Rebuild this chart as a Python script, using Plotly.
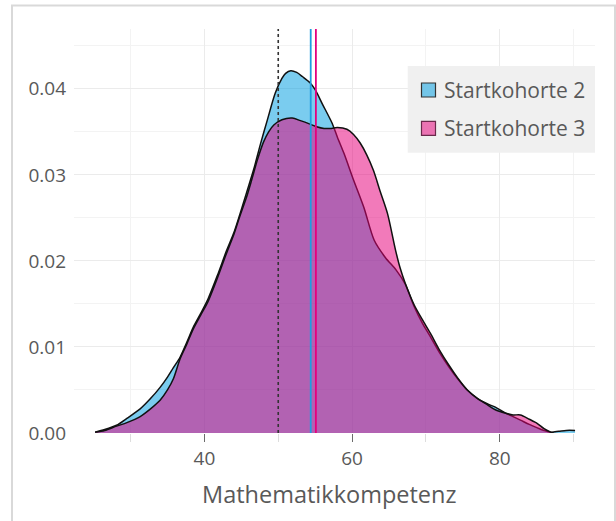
import plotly.graph_objects as go

# ---------------- data ----------------
series_names = ["Startkohorte 2", "Startkohorte 3"]

sk2_x = [25.2, 26.5, 28.1, 29.5, 31.3, 32.7, 34.0, 35.0, 35.8, 36.7, 37.6, 38.5, 39.5, 40.5,
         41.8, 43.0, 44.0, 44.8, 45.7, 46.7, 47.6, 48.5, 49.6, 50.5, 51.0, 51.7, 52.5, 53.3,
         54.3, 55.0, 56.0, 57.3, 58.0, 58.9, 60.2, 61.6, 63.0, 64.5, 66.0, 67.2, 68.4, 69.5,
         70.6, 71.8, 73.1, 74.3, 75.6, 77.0, 78.3, 79.4, 80.8, 81.8, 82.8, 84.0, 85.1, 86.0,
         86.9, 88.0, 89.0, 90.2]
sk2_y = [0.0001, 0.0004, 0.0009, 0.0017, 0.0028, 0.0040, 0.0053, 0.0065, 0.0076, 0.0088,
         0.0105, 0.0123, 0.0139, 0.0156, 0.0184, 0.0212, 0.0233, 0.0254, 0.0279, 0.0307,
         0.0336, 0.0363, 0.0395, 0.0412, 0.0418, 0.0421, 0.0419, 0.0414, 0.0407, 0.0399,
         0.0382, 0.0360, 0.0344, 0.0325, 0.0294, 0.0262, 0.0224, 0.0204, 0.0189, 0.0173,
         0.0147, 0.0128, 0.0112, 0.0094, 0.0077, 0.0063, 0.0050, 0.0040, 0.0034, 0.0030,
         0.0023, 0.0019, 0.0015, 0.0010, 0.0006, 0.0003, 0.0001, 0.0002, 0.0003, 0.0003]

sk3_x = [25.2, 26.5, 28.1, 29.5, 31.3, 32.7, 34.0, 35.0, 35.8, 36.7, 37.6, 38.5, 39.5, 40.5,
         41.8, 43.0, 44.0, 44.8, 45.7, 46.4, 47.2, 48.0, 48.7, 49.4, 50.5, 51.9, 53.0, 54.3,
         55.2, 56.2, 57.2, 58.0, 59.3, 60.2, 61.1, 62.0, 62.9, 63.8, 64.8, 65.9, 66.5, 67.2,
         68.4, 69.5, 70.6, 71.8, 73.1, 74.3, 75.6, 77.0, 78.3, 79.4, 80.8, 81.8, 82.8, 84.0,
         85.1, 86.0, 86.9, 87.3]
sk3_y = [0.0001, 0.0003, 0.0008, 0.0012, 0.0019, 0.0028, 0.0038, 0.0050, 0.0063, 0.0086,
         0.0103, 0.0121, 0.0137, 0.0153, 0.0181, 0.0209, 0.0231, 0.0252, 0.0274, 0.0294,
         0.0318, 0.0338, 0.0350, 0.0358, 0.0364, 0.0366, 0.0363, 0.0359, 0.0356, 0.0354,
         0.0354, 0.0355, 0.0353, 0.0347, 0.0337, 0.0323, 0.0305, 0.0281, 0.0255, 0.0212,
         0.0192, 0.0174, 0.0149, 0.0132, 0.0116, 0.0097, 0.0079, 0.0064, 0.0050, 0.0040,
         0.0033, 0.0027, 0.0023, 0.0021, 0.0021, 0.0016, 0.0011, 0.0005, 0.0001, 0.0000]

group_means = [54.4, 55.1]
reference_value = 50

x_ticks = [40, 60, 80]
y_ticks = [0.00, 0.01, 0.02, 0.03, 0.04]
x_title = "Mathematikkompetenz"

# ---------------- styling ----------------
fill_colors = ["rgba(0,158,224,0.52)", "rgba(230,0,122,0.52)"]
mean_colors = ["#1f9ee0", "#e5007e"]
swatch_lines = ["#333333", "#6a2a4c"]
text_color = "#595959"
FONT = "Open Sans"

W, H = 616, 521
L, R, T, B = 74, 21, 29, 88
PW, PH = W - L - R, H - T - B


def px(xp):
    return (xp - L) / PW


def py(yp):
    return (H - B - yp) / PH


fig = go.Figure()
for xs, ys, name, fc in zip([sk2_x, sk3_x], [sk2_y, sk3_y], series_names, fill_colors):
    fig.add_trace(go.Scatter(
        x=xs, y=ys, name=name, mode="lines", fill="tozeroy",
        fillcolor=fc, line=dict(color="#111111", width=1.5, shape="spline", smoothing=0.8),
        showlegend=False, hoverinfo="skip"))

shapes = []
# reference dotted line
shapes.append(dict(type="line", xref="x", yref="paper", x0=reference_value, x1=reference_value,
                   y0=0, y1=1, line=dict(color="#333333", width=1.6, dash="dot"), layer="above"))
for m, c in zip(group_means, mean_colors):
    shapes.append(dict(type="line", xref="x", yref="paper", x0=m, x1=m, y0=0, y1=1,
                       line=dict(color=c, width=1.8), layer="above"))

# outer light border
shapes.append(dict(type="rect", xref="paper", yref="paper", x0=px(12), x1=px(615),
                   y0=py(560), y1=py(5.5), line=dict(color="#d9d9d9", width=2),
                   fillcolor="rgba(0,0,0,0)", layer="below"))

# manual legend
shapes.append(dict(type="rect", xref="paper", yref="paper", x0=px(407.7), x1=px(595),
                   y0=py(152.7), y1=py(66), line=dict(width=0), fillcolor="#f0f0f0", layer="above"))
annotations = []
for i, (name, fc, lc) in enumerate(zip(series_names, fill_colors, swatch_lines)):
    cy = 90 + i * 38.4
    shapes.append(dict(type="rect", xref="paper", yref="paper", x0=px(421.5), x1=px(435.5),
                       y0=py(cy + 7), y1=py(cy - 7), line=dict(color=lc, width=1.2),
                       fillcolor=fc, layer="above"))
    annotations.append(dict(xref="paper", yref="paper", x=px(441.5), y=py(cy), text=name,
                            showarrow=False, xanchor="left", yanchor="middle",
                            font=dict(family=FONT, size=21, color=text_color)))

annotations.append(dict(xref="paper", yref="paper", x=px(328.5), y=py(494), text=x_title,
                        showarrow=False, xanchor="center", yanchor="middle",
                        font=dict(family=FONT, size=23.5, color=text_color)))

fig.update_layout(
    width=W, height=H, margin=dict(l=L, r=R, t=T, b=B),
    paper_bgcolor="white", plot_bgcolor="white",
    font=dict(family=FONT, color=text_color),
    shapes=shapes, annotations=annotations, showlegend=False,
    xaxis=dict(range=[22.34, 92.9], tickvals=x_ticks, ticktext=[str(v) for v in x_ticks],
               showgrid=True, gridcolor="#ebebeb", gridwidth=1.4, zeroline=False,
               ticks="outside", ticklen=8, tickcolor="#6b6b6b", tickwidth=1,
               tickfont=dict(family=FONT, size=19, color=text_color), showline=False,
               minor=dict(tickvals=[30, 50, 70, 90], showgrid=True, gridcolor="#f3f3f3",
                          gridwidth=1, ticks="outside", ticklen=8, tickcolor="#dddddd")),
    yaxis=dict(range=[0, 0.04695], tickvals=y_ticks, ticktext=["%.2f" % v for v in y_ticks],
               showgrid=True, gridcolor="#ebebeb", gridwidth=1.4, zeroline=False,
               ticks="", ticklabelstandoff=7,
               tickfont=dict(family=FONT, size=19, color=text_color), showline=False,
               minor=dict(tickvals=[0.005, 0.015, 0.025, 0.035, 0.045], showgrid=True,
                          gridcolor="#f3f3f3", gridwidth=1)),
)

fig.write_html("out.html")
